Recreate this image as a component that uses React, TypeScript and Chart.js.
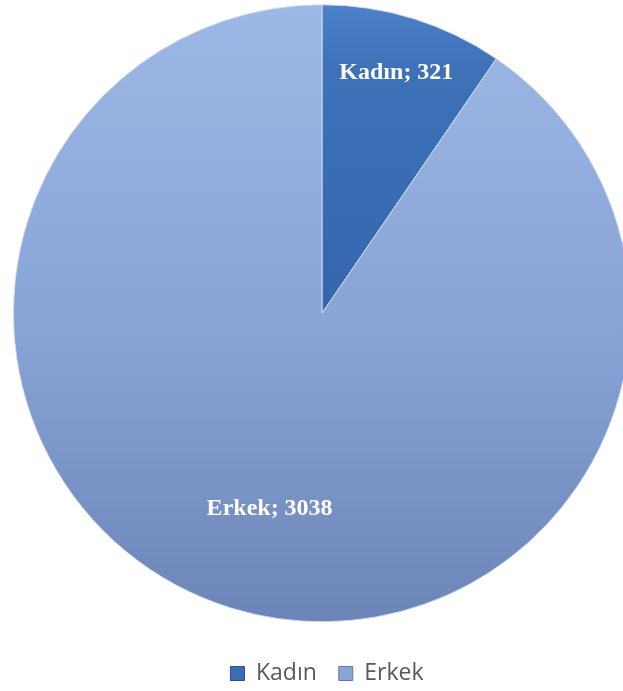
import React, { useEffect, useRef } from "react";
import { Chart, registerables } from "chart.js";

Chart.register(...registerables);

const categories = ["Kadın", "Erkek"];
const values = [321, 3038];

const labelPlugin = {
  id: "sliceLabels",
  afterLayout(chart: any) {
    if (chart.legend) {
      chart.legend.left += 5;
      chart.legend.right += 5;
    }
  },
  afterDatasetsDraw(chart: any) {
    const ctx = chart.ctx;
    const meta = chart.getDatasetMeta(0);
    const factors = [0.815, 0.655];
    const angleTweak = [0, -0.038];
    ctx.save();
    ctx.font = "bold 24px 'Liberation Serif', 'Times New Roman', serif";
    ctx.fillStyle = "#ffffff";
    ctx.textAlign = "center";
    ctx.textBaseline = "middle";
    meta.data.forEach((arc: any, i: number) => {
      const p = arc.getProps(["x", "y", "startAngle", "endAngle", "outerRadius"], true);
      const mid = (p.startAngle + p.endAngle) / 2 + angleTweak[i];
      const r = p.outerRadius * factors[i];
      const x = p.x + Math.cos(mid) * r;
      const y = p.y + Math.sin(mid) * r;
      ctx.fillText(`${categories[i]}; ${values[i]}`, x, y);
    });
    ctx.restore();
  },
};

export default function App() {
  const ref = useRef<HTMLCanvasElement | null>(null);
  useEffect(() => {
    const canvas = ref.current!;
    const ctx = canvas.getContext("2d")!;
    const kadinGrad = ctx.createLinearGradient(0, 4, 0, 320);
    kadinGrad.addColorStop(0, "#4c82cb");
    kadinGrad.addColorStop(0.2, "#3d71b8");
    kadinGrad.addColorStop(1, "#3467ad");
    const erkekGrad = ctx.createLinearGradient(0, 4, 0, 622);
    erkekGrad.addColorStop(0, "#9bb8e6");
    erkekGrad.addColorStop(0.5, "#89a5d7");
    erkekGrad.addColorStop(1, "#6c85b8");

    const chart = new Chart(canvas, {
      type: "pie",
      data: {
        labels: categories,
        datasets: [
          {
            data: values,
            backgroundColor: [kadinGrad, erkekGrad],
            borderColor: "rgba(215,222,235,0.9)",
            borderWidth: 1,
          },
        ],
      },
      options: {
        responsive: false,
        animation: false,
        layout: { padding: { top: 4, left: 13, right: 13, bottom: 0 } },
        plugins: {
          tooltip: { enabled: false },
          legend: {
            position: "bottom",
            title: { display: true, text: " ", padding: { top: 5.5, bottom: 0 }, font: { size: 10 } },
            labels: {
              boxWidth: 14,
              boxHeight: 14,
              padding: 22,
              color: "#595959",
              font: { family: "'Open Sans', 'Noto Sans', sans-serif", size: 23 },
              generateLabels: () =>
                categories.map((c, i) => ({
                  text: c,
                  fillStyle: i === 0 ? "#3a6db4" : "#8aa6d8",
                  strokeStyle: i === 0 ? "#25508f" : "#5f78a8",
                  lineWidth: 1,
                  hidden: false,
                  index: i,
                  datasetIndex: 0,
                  fontColor: "#595959",
                })),
            },
          },
        },
      },
      plugins: [labelPlugin],
    });
    return () => chart.destroy();
  }, []);
  return (
    <div style={{ position: "fixed", left: 0, top: 0, width: 623, height: 691, overflow: "hidden", background: "#fff" }}>
      <canvas ref={ref} width={644} height={695} style={{ display: "block", width: 644, height: 695 }} />
    </div>
  );
}
